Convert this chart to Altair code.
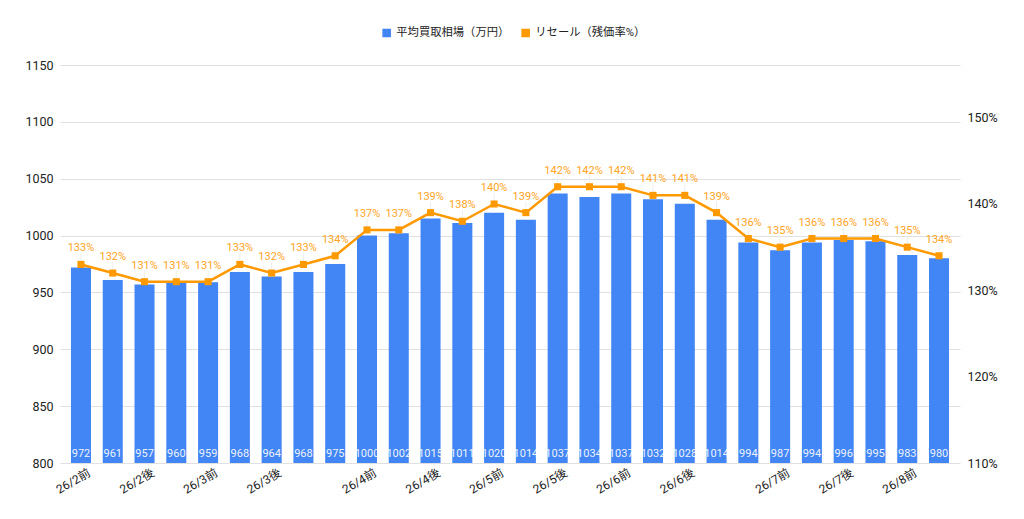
import pandas as pd
import altair as alt

# Values
prices = [972, 961, 957, 960, 959, 968, 964, 968, 975, 1000, 1002, 1015, 1011, 1020,
          1014, 1037, 1034, 1037, 1032, 1028, 1014, 994, 987, 994, 996, 995, 983, 980]
resale = [133, 132, 131, 131, 131, 133, 132, 133, 134, 137, 137, 139, 138, 140,
          139, 142, 142, 142, 141, 141, 139, 136, 135, 136, 136, 136, 135, 134]
# Only some tick labels are visible in the reference
tick_labels = ["26/2前", "", "26/2後", "", "26/3前", "", "26/3後", "", "",
               "26/4前", "", "26/4後", "", "26/5前", "", "26/5後", "", "26/6前",
               "", "26/6後", "", "", "26/7前", "", "26/7後", "", "26/8前", ""]

bar_name = "平均買取相場（万円）"
line_name = "リセール（残価率%）"

df = pd.DataFrame({
    "idx": list(range(len(prices))),
    "price": prices,
    "resale": resale,
})
df["resale_label"] = df["resale"].astype(str) + "%"

font = "Roboto, 'Noto Sans CJK JP', sans-serif"
blue = "#4285F4"
orange = "#FF9900"

label_js = "[" + ",".join("'" + t + "'" for t in tick_labels) + "]"

x = alt.X(
    "idx:O",
    title=None,
    scale=alt.Scale(paddingInner=0.37, paddingOuter=0.345),
    axis=alt.Axis(
        labelExpr=label_js + "[datum.value]",
        labelAngle=-30,
        labelAlign="right",
        labelBaseline="top",
        labelPadding=4,
        labelOffset=6,
        labelFontSize=12,
        labelColor="#222222",
        labelOverlap=False,
        ticks=False,
        domain=False,
        grid=False,
    ),
)

color = alt.Color(
    "series:N",
    scale=alt.Scale(domain=[bar_name, line_name], range=[blue, orange]),
    legend=alt.Legend(
        title=None,
        orient="none",
        direction="horizontal",
        legendX=321,
        legendY=-38,
        symbolType="square",
        symbolSize=50,
        labelFontSize=11.3,
        labelColor="#222222",
        columnPadding=9,
    ),
)

base = alt.Chart(df)

bars = base.mark_bar().transform_calculate(series=f"'{bar_name}'").encode(
    x=x,
    y=alt.Y(
        "price:Q",
        title=None,
        scale=alt.Scale(domain=[800, 1150], nice=False, zero=False),
        axis=alt.Axis(
            values=[800, 850, 900, 950, 1000, 1050, 1100, 1150],
            format="d",
            labelFontSize=12.5,
            labelColor="#222222",
            labelPadding=7,
            ticks=False,
            domain=False,
            gridColor="#e0e0e0",
        ),
    ),
    y2=alt.datum(800),
    color=color,
)

bar_text = base.mark_text(
    color="white", opacity=0.9, fontSize=11, baseline="middle", dy=-9
).encode(
    x=x,
    y=alt.datum(800),
    text="price:Q",
)

right_scale = alt.Scale(domain=[110, 156.1], nice=False, zero=False)

leaders = base.mark_rule(color="#eeeeee", strokeWidth=1).transform_calculate(
    top="datum.resale + 1.3"
).encode(
    x=x,
    y=alt.Y(
        "resale:Q",
        title=None,
        scale=right_scale,
        axis=alt.Axis(
            orient="right",
            values=[110, 120, 130, 140, 150],
            labelExpr="datum.value + '%'",
            labelFontSize=12.5,
            labelColor="#222222",
            labelPadding=7,
            ticks=False,
            domain=False,
            grid=False,
        ),
    ),
    y2="top:Q",
)

line = base.mark_line(strokeWidth=2.5).transform_calculate(series=f"'{line_name}'").encode(
    x=x,
    y="resale:Q",
    color=color,
)

points = base.mark_point(shape="square", filled=True, size=50, opacity=1, color=orange).encode(
    x=x,
    y="resale:Q",
)

point_text = base.mark_text(
    color="#FFA424", fontSize=11, baseline="middle", dy=-16
).encode(
    x=x,
    y="resale:Q",
    text="resale_label:N",
)

left_layer = alt.layer(bars, bar_text)
right_layer = alt.layer(leaders, line, points, point_text)

chart = alt.layer(left_layer, right_layer).resolve_scale(
    y="independent"
).properties(
    width=900,
    height=398,
    autosize=alt.AutoSizeParams(type="none"),
    padding={"left": 52, "top": 57, "right": 50, "bottom": 45},
).configure(
    font=font,
).configure_view(
    stroke=None,
)

chart.save("out.html", embed_options={"renderer": "svg", "actions": False})
